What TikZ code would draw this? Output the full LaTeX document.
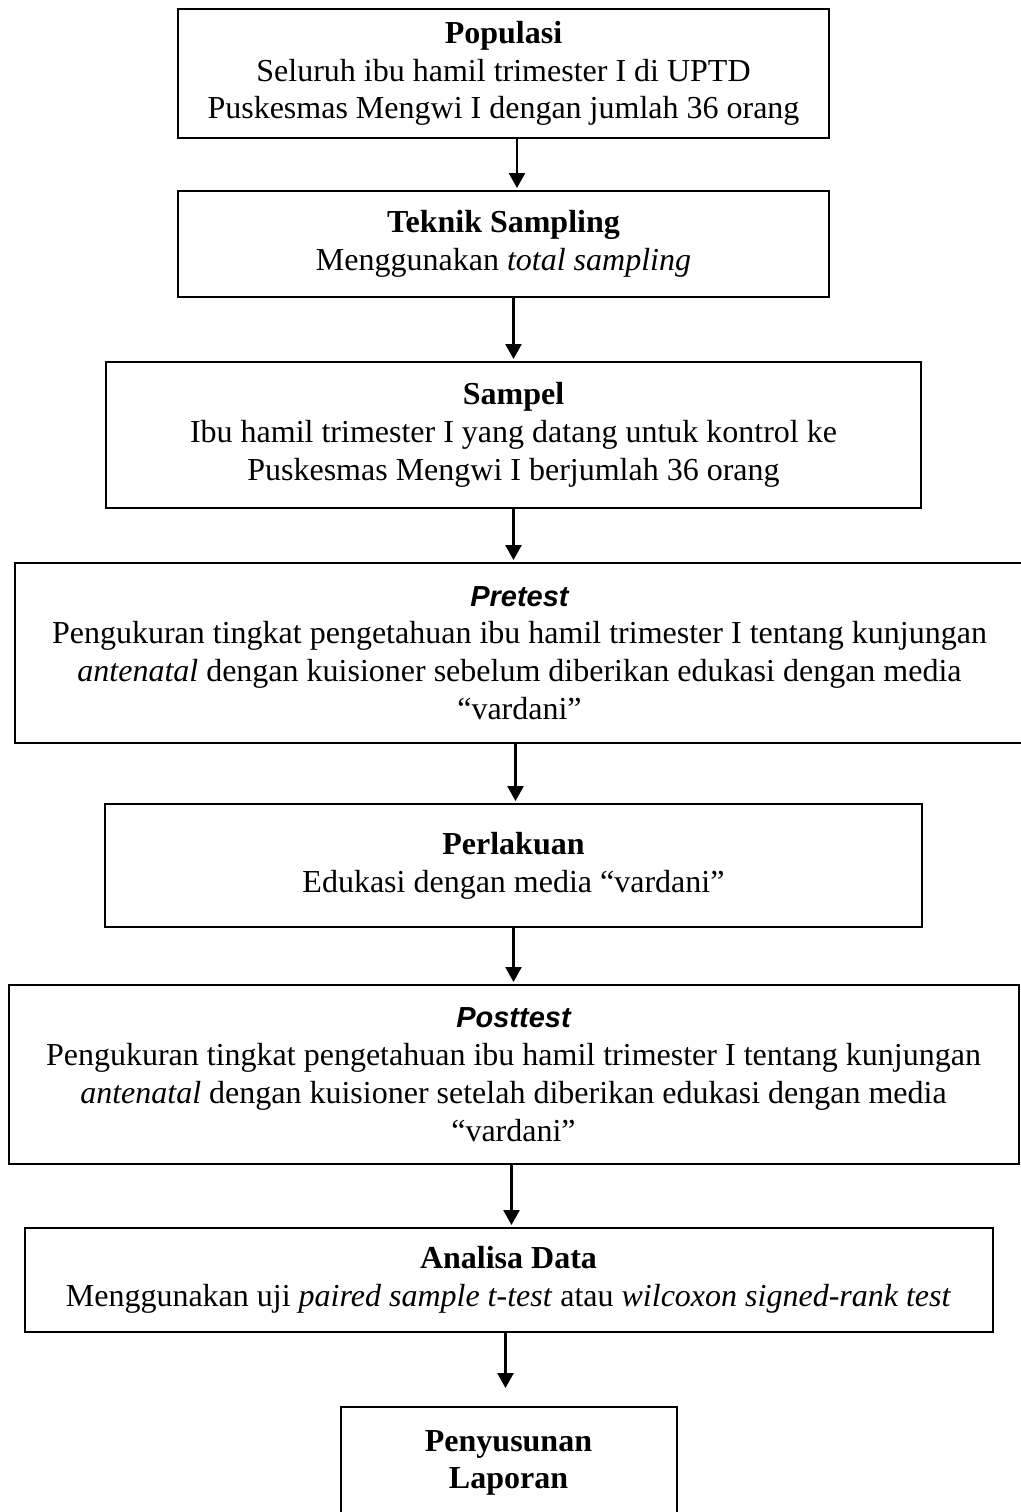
\documentclass[tikz,border=0pt]{standalone}
\usepackage{fontspec}
\setmainfont{Liberation Serif}
\newfontfamily\headsans{Liberation Sans}
\usetikzlibrary{arrows.meta, positioning}
\newcommand{\boxfont}{\fontsize{16}{18.9}\selectfont}
\tikzset{
  flowbox/.style={
    rectangle, draw=black, line width=1pt, fill=white,
    align=center, font=\boxfont, inner sep=2pt
  },
  arr/.style={-{Triangle[width=8pt,length=7.5pt]}, line width=1.3pt,
    draw=black, shorten >=1pt}
}

\begin{document}
\begin{tikzpicture}
\useasboundingbox (0,0) rectangle (510.5pt,-756pt);

% ── Populasi & sampling ─────────────────────────────────────
\node[flowbox, minimum width=325.5pt, minimum height=64.5pt]
  at (251.75pt,-36.75pt) (pop) {%
  \textbf{Populasi}\\
  Seluruh ibu hamil trimester I di UPTD\\
  Puskesmas Mengwi I dengan jumlah 36 orang
};

\node[flowbox, minimum width=325.5pt, minimum height=53pt,
      below=25.5pt of pop] (tek) {%
  \textbf{Teknik Sampling}\\
  Menggunakan \textit{total sampling}
};

\node[flowbox, minimum width=407.5pt, minimum height=73pt,
      below=31.5pt of tek, xshift=5pt] (sam) {%
  \textbf{Sampel}\\
  Ibu hamil trimester I yang datang untuk kontrol ke\\
  Puskesmas Mengwi I berjumlah 36 orang
};

% ── Pretest, perlakuan, posttest ────────────────────────────
\node[flowbox, minimum width=504.5pt, minimum height=90pt,
      below=26.5pt of sam, xshift=3pt] (pre) {%
  {\headsans\bfseries\itshape\fontsize{14.5}{18.9}\selectfont Pretest}\\
  Pengukuran tingkat pengetahuan ibu hamil trimester I tentang kunjungan\\
  \textit{antenatal} dengan kuisioner sebelum diberikan edukasi dengan media\\
  “vardani”
};

\node[flowbox, minimum width=408.5pt, minimum height=61.5pt,
      below=29.5pt of pre, xshift=-3pt] (per) {%
  \textbf{Perlakuan}\\
  Edukasi dengan media “vardani”
};

\node[flowbox, minimum width=505pt, minimum height=89.5pt,
      below=28pt of per] (post) {%
  {\headsans\bfseries\itshape\fontsize{14.5}{18.9}\selectfont Posttest}\\
  Pengukuran tingkat pengetahuan ibu hamil trimester I tentang kunjungan\\
  \textit{antenatal} dengan kuisioner setelah diberikan edukasi dengan media\\
  “vardani”
};

% ── Analisa & laporan ───────────────────────────────────────
\node[flowbox, minimum width=484pt, minimum height=52pt,
      below=31pt of post, xshift=-2.5pt] (ana) {%
  \textbf{Analisa Data}\\
  Menggunakan uji \textit{paired sample t-test} atau
  \textit{wilcoxon signed-rank test}
};

\node[flowbox, minimum width=168pt, minimum height=56pt,
      below=36.5pt of ana] (lap) {%
  \textbf{Penyusunan}\\
  \textbf{Laporan}
};

% ── Arrows ──────────────────────────────────────────────────
\draw[arr] ([xshift=6.75pt]pop.south) -- ([xshift=6.75pt]pop.south |- tek.north);
\draw[arr] ([xshift=5pt]tek.south)    -- ([xshift=5pt]tek.south |- sam.north);
\draw[arr] (sam.south) -- (sam.south |- pre.north);
\draw[arr] ([xshift=-2pt]pre.south)   -- ([xshift=-2pt]pre.south |- per.north);
\draw[arr] (per.south) -- (per.south |- post.north);
\draw[arr] ([xshift=-1pt]post.south)  -- ([xshift=-1pt]post.south |- ana.north);
\draw[arr, shorten >=9pt] ([xshift=-1.5pt]ana.south) -- ([xshift=-1.5pt]ana.south |- lap.north);

\end{tikzpicture}
\end{document}
